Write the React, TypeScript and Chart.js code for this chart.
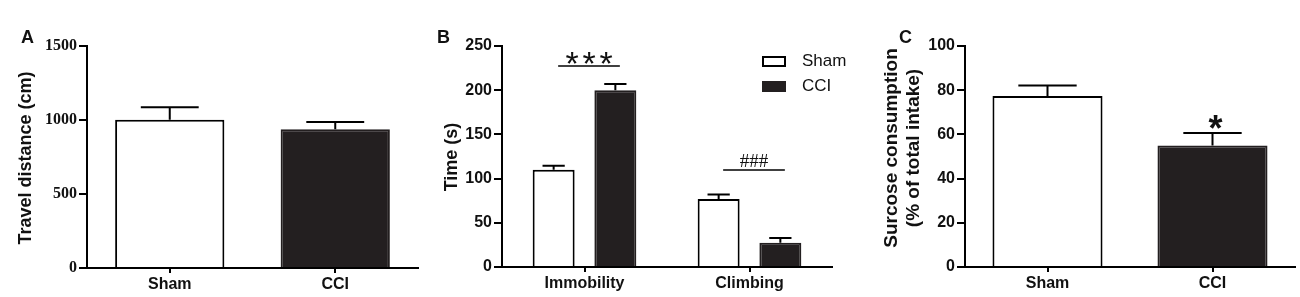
import React, { useEffect, useRef } from "react";
import { Chart, registerables } from "chart.js";

Chart.register(...registerables);

// ---------------- data ----------------
const groupNames = ["Sham", "CCI"];

const travelCategories = ["Sham", "CCI"];
const travelMean = [1002, 937];
const travelSem = [84, 49];
const travelAxis = { max: 1500, step: 500 };

const fstCategories = ["Immobility", "Climbing"];
const fstShamMean = [110, 77];
const fstShamSem = [4.6, 5];
const fstCciMean = [200, 27.5];
const fstCciSem = [7, 5.3];
const fstAxis = { max: 250, step: 50 };

const sucroseCategories = ["Sham", "CCI"];
const sucroseMean = [77.4, 55];
const sucroseSem = [4.7, 5.6];
const sucroseAxis = { max: 100, step: 20 };

// significance marks: text, value of text centre, value of bracket line
const fstSigText = ["***", "###"];
const fstSigTextValue = [236.4, 121];
const fstSigLineValue = [227.4, 109.7];
const sucroseSigText = ["*"];
const sucroseSigTextValue = [65.5];

// ---------------- style ----------------
const SANS = '"Liberation Sans", Arial, Helvetica, sans-serif';
const SERIF = '"Liberation Serif", "Times New Roman", serif';
const WHITE = "#ffffff";
const BLACK = "#231f20";
const INK = "#111111";

interface Sig {
  text: string;
  font: string;
  spacing: number;
  from: [number, number];
  to: [number, number];
  dx: number;
  textValue: number;
  lineValue: number | null;
}

interface PanelSpec {
  left: number;
  width: number;
  yWidth: number;
  padRight: number;
  xHeight: number;
  top: number;
  max: number;
  step: number;
  tickFamily: string;
  labels: string[];
  datasets: any[];
  errors: number[][];
  barPct: number;
  catPct: number;
  titleLines: string[];
  titleX: number[];
  titleY: number;
  titleSize: number;
  sigs: Sig[];
  legend: boolean;
}

function errorBarPlugin(errors: number[][]) {
  return {
    id: "errorBars",
    afterDatasetsDraw(chart: any) {
      const ctx = chart.ctx;
      const y = chart.scales.y;
      ctx.save();
      ctx.strokeStyle = "#000";
      ctx.lineWidth = 2;
      chart.data.datasets.forEach((ds: any, di: number) => {
        const meta = chart.getDatasetMeta(di);
        meta.data.forEach((bar: any, i: number) => {
          const v = ds.data[i] as number;
          const e = errors[di][i];
          const yb = y.getPixelForValue(v);
          const yt = y.getPixelForValue(v + e);
          const half = bar.width * 0.265;
          ctx.beginPath();
          ctx.moveTo(bar.x, yb);
          ctx.lineTo(bar.x, yt);
          ctx.moveTo(bar.x - half, yt);
          ctx.lineTo(bar.x + half, yt);
          ctx.stroke();
        });
      });
      ctx.restore();
    },
  };
}

function sigPlugin(sigs: Sig[]) {
  return {
    id: "sigMarks",
    afterDatasetsDraw(chart: any) {
      const ctx = chart.ctx;
      const y = chart.scales.y;
      ctx.save();
      sigs.forEach((s) => {
        const a = chart.getDatasetMeta(s.from[0]).data[s.from[1]];
        const b = chart.getDatasetMeta(s.to[0]).data[s.to[1]];
        const xs = a.x + s.dx;
        const xe = b.x + s.dx;
        if (s.lineValue !== null) {
          const yl = y.getPixelForValue(s.lineValue);
          ctx.strokeStyle = "#000";
          ctx.lineWidth = 1.5;
          ctx.beginPath();
          ctx.moveTo(xs, yl);
          ctx.lineTo(xe, yl);
          ctx.stroke();
        }
        ctx.font = s.font;
        ctx.fillStyle = INK;
        ctx.textAlign = "center";
        ctx.textBaseline = "alphabetic";
        const chars = s.spacing > 0 ? s.text.split("") : [s.text];
        const m = ctx.measureText(chars[0]);
        const yc = y.getPixelForValue(s.textValue);
        const base = yc + (m.actualBoundingBoxAscent - m.actualBoundingBoxDescent) / 2;
        const xc = (xs + xe) / 2;
        chars.forEach((c, i) => {
          ctx.fillText(c, xc + (i - (chars.length - 1) / 2) * s.spacing, base);
        });
      });
      ctx.restore();
    },
  };
}

function titlePlugin(lines: string[], xs: number[], yc: number, size: number) {
  return {
    id: "axisTitle",
    afterDraw(chart: any) {
      const ctx = chart.ctx;
      ctx.save();
      ctx.font = `bold ${size}px ${SANS}`;
      ctx.fillStyle = INK;
      ctx.textAlign = "center";
      ctx.textBaseline = "middle";
      lines.forEach((line, i) => {
        ctx.save();
        ctx.translate(xs[i], yc);
        ctx.rotate(-Math.PI / 2);
        ctx.fillText(line, 0, 0);
        ctx.restore();
      });
      ctx.restore();
    },
  };
}

const boxLegendPlugin = {
  id: "boxLegend",
  afterDraw(chart: any) {
    const ctx = chart.ctx;
    const area = chart.chartArea;
    const boxLeft = area.right - 70;
    const firstTop = area.top + 10;
    const rowGap = 25;
    ctx.save();
    ctx.font = `17px ${SANS}`;
    ctx.textAlign = "left";
    ctx.textBaseline = "middle";
    chart.data.datasets.forEach((ds: any, i: number) => {
      const top = firstTop + i * rowGap;
      ctx.fillStyle = ds.backgroundColor;
      ctx.fillRect(boxLeft, top, 24, 11);
      ctx.strokeStyle = ds.borderColor;
      ctx.lineWidth = 2;
      ctx.strokeRect(boxLeft + 1, top + 1, 22, 9);
      ctx.fillStyle = INK;
      ctx.fillText(ds.label, boxLeft + 40, top + 5.5);
    });
    ctx.restore();
  },
};

function buildConfig(s: PanelSpec): any {
  const plugins: any[] = [
    errorBarPlugin(s.errors),
    sigPlugin(s.sigs),
    titlePlugin(s.titleLines, s.titleX, s.titleY, s.titleSize),
  ];
  if (s.legend) plugins.push(boxLegendPlugin);
  return {
    type: "bar",
    data: {
      labels: s.labels,
      datasets: s.datasets.map((d) => ({
        ...d,
        borderWidth: 2,
        borderSkipped: "start",
        barPercentage: s.barPct,
        categoryPercentage: s.catPct,
      })),
    },
    options: {
      responsive: false,
      animation: false,
      devicePixelRatio: 1,
      layout: { padding: { left: 0, top: s.top, right: s.padRight, bottom: 0 } },
      plugins: {
        legend: { display: false },
        tooltip: { enabled: false },
        title: { display: false },
      },
      scales: {
        x: {
          type: "category",
          offset: true,
          grid: {
            offset: false,
            drawOnChartArea: false,
            drawTicks: true,
            tickLength: 5,
            lineWidth: 2,
            color: "#000",
          },
          border: { display: true, width: 2, color: "#000" },
          ticks: {
            color: INK,
            font: { family: SANS, size: 16, weight: "bold" },
            padding: 2,
            maxRotation: 0,
            autoSkip: false,
          },
          afterFit: (sc: any) => {
            sc.height = s.xHeight;
          },
        },
        y: {
          min: 0,
          max: s.max,
          ticks: {
            stepSize: s.step,
            color: INK,
            font: { family: s.tickFamily, size: 16, weight: "bold" },
            padding: 2,
            callback: (v: any) => String(v),
          },
          grid: {
            drawOnChartArea: false,
            drawTicks: true,
            tickLength: 8,
            lineWidth: 2,
            color: "#000",
          },
          border: { display: true, width: 2, color: "#000" },
          afterFit: (sc: any) => {
            sc.width = s.yWidth;
          },
        },
      },
    },
    plugins,
  };
}

const panelA: PanelSpec = {
  left: 0,
  width: 430,
  yWidth: 87,
  padRight: 12,
  xHeight: 29,
  top: 46,
  max: travelAxis.max,
  step: travelAxis.step,
  tickFamily: SERIF,
  labels: travelCategories,
  datasets: [
    {
      label: "Travel distance",
      data: travelMean,
      backgroundColor: [WHITE, BLACK],
      borderColor: ["#000", BLACK],
    },
  ],
  errors: [travelSem],
  barPct: 0.66,
  catPct: 1,
  titleLines: ["Travel distance (cm)"],
  titleX: [26],
  titleY: 158,
  titleSize: 18,
  sigs: [],
  legend: false,
};

const panelB: PanelSpec = {
  left: 430,
  width: 440,
  yWidth: 72,
  padRight: 38,
  xHeight: 30,
  top: 46,
  max: fstAxis.max,
  step: fstAxis.step,
  tickFamily: SANS,
  labels: fstCategories,
  datasets: [
    { label: groupNames[0], data: fstShamMean, backgroundColor: WHITE, borderColor: "#000" },
    { label: groupNames[1], data: fstCciMean, backgroundColor: BLACK, borderColor: BLACK },
  ],
  errors: [fstShamSem, fstCciSem],
  barPct: 0.68,
  catPct: 0.748,
  titleLines: ["Time (s)"],
  titleX: [22],
  titleY: 157,
  titleSize: 18,
  sigs: [
    {
      text: fstSigText[0],
      font: `34px ${SANS}`,
      spacing: 17,
      from: [0, 0],
      to: [1, 0],
      dx: 4.5,
      textValue: fstSigTextValue[0],
      lineValue: fstSigLineValue[0],
    },
    {
      text: fstSigText[1],
      font: `19px ${SERIF}`,
      spacing: 0,
      from: [0, 1],
      to: [1, 1],
      dx: 4.5,
      textValue: fstSigTextValue[1],
      lineValue: fstSigLineValue[1],
    },
  ],
  legend: true,
};

const panelC: PanelSpec = {
  left: 870,
  width: 430,
  yWidth: 95,
  padRight: 5,
  xHeight: 30,
  top: 46,
  max: sucroseAxis.max,
  step: sucroseAxis.step,
  tickFamily: SANS,
  labels: sucroseCategories,
  datasets: [
    {
      label: "Sucrose",
      data: sucroseMean,
      backgroundColor: [WHITE, BLACK],
      borderColor: ["#000", BLACK],
    },
  ],
  errors: [sucroseSem],
  barPct: 0.667,
  catPct: 1,
  titleLines: ["Surcose consumption", "(% of total intake)"],
  titleX: [21.5, 43.5],
  titleY: 148,
  titleSize: 19,
  sigs: [
    {
      text: sucroseSigText[0],
      font: `bold 36px ${SANS}`,
      spacing: 0,
      from: [0, 1],
      to: [0, 1],
      dx: 3,
      textValue: sucroseSigTextValue[0],
      lineValue: null,
    },
  ],
  legend: false,
};

function Panel({ spec }: { spec: PanelSpec }) {
  const ref = useRef<HTMLCanvasElement>(null);
  useEffect(() => {
    if (!ref.current) return;
    const chart = new Chart(ref.current, buildConfig(spec));
    return () => chart.destroy();
  }, [spec]);
  return (
    <canvas
      ref={ref}
      width={spec.width}
      height={297}
      style={{ position: "absolute", left: spec.left, top: 0, width: spec.width, height: 297 }}
    />
  );
}

const letterStyle = (left: number): React.CSSProperties => ({
  position: "absolute",
  left,
  top: 27.5,
  font: `bold 18px ${SANS}`,
  lineHeight: "18px",
  color: INK,
});

export default function App() {
  return (
    <div
      style={{
        position: "absolute",
        left: 0,
        top: 0,
        width: 1300,
        height: 297,
        background: "#ffffff",
        overflow: "hidden",
      }}
    >
      <Panel spec={panelA} />
      <Panel spec={panelB} />
      <Panel spec={panelC} />
      <div style={letterStyle(21)}>A</div>
      <div style={letterStyle(437)}>B</div>
      <div style={letterStyle(899)}>C</div>
    </div>
  );
}
